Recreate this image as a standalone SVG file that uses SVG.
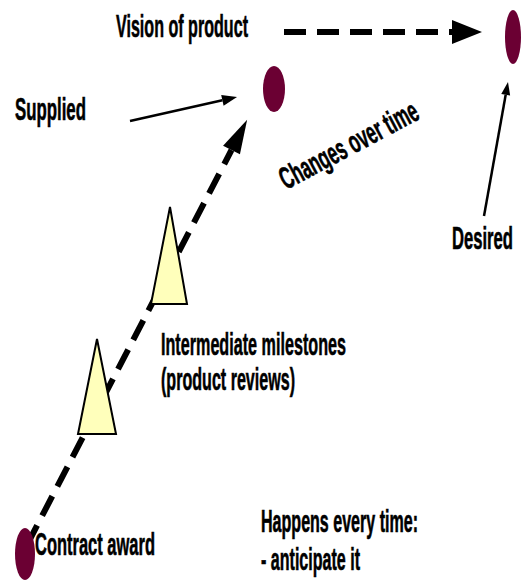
<svg xmlns="http://www.w3.org/2000/svg" width="521" height="580" viewBox="0 0 521 580">
<style>
.lbl{font-family:"Liberation Sans",Arial,sans-serif;font-size:31px;font-weight:bold;fill:#000;stroke:#000;stroke-width:0.6}
.dot{fill:#6B0033}
.tri{fill:#FFFFBB;stroke:#000;stroke-width:2}
.dash{fill:none;stroke:#000;stroke-width:6;stroke-dasharray:22 11}
.thin{fill:none;stroke:#000;stroke-width:2.5}
</style>
<defs>
<marker id="hBig" markerUnits="userSpaceOnUse" orient="auto" refX="0" refY="9.5" markerWidth="36" markerHeight="20" overflow="visible"><path d="M0,0 L34,9.5 L0,19 z" fill="#000"/></marker>
<marker id="hTop" markerUnits="userSpaceOnUse" orient="auto" refX="0" refY="12" markerWidth="32" markerHeight="25" overflow="visible"><path d="M0,0 L30,12 L0,24 z" fill="#000"/></marker>
<marker id="hSmall" markerUnits="userSpaceOnUse" orient="auto" refX="0" refY="5.5" markerWidth="16" markerHeight="12" overflow="visible"><path d="M0,0 L15,5.5 L0,11 z" fill="#000"/></marker>
<marker id="hTiny" markerUnits="userSpaceOnUse" orient="auto" refX="0" refY="4.5" markerWidth="14" markerHeight="10" overflow="visible"><path d="M0,0 L13,4.5 L0,9 z" fill="#000"/></marker>
</defs>
<rect width="521" height="580" fill="#fff"/>
<g id="connectors">
<line class="dash" x1="284" y1="32" x2="452" y2="32" marker-end="url(#hTop)"/>
<line class="dash" x1="27" y1="545" x2="231.5" y2="150" marker-end="url(#hBig)"/>
<line class="thin" x1="130" y1="121" x2="222.4" y2="100.3" marker-end="url(#hSmall)"/>
<line class="thin" x1="484" y1="216" x2="505.7" y2="94.8" stroke-width="2" marker-end="url(#hTiny)"/>
</g>
<g id="vision-top"><ellipse class="dot" cx="513" cy="37" rx="8" ry="27"/></g>
<g id="vision-supplied"><ellipse class="dot" cx="274" cy="89" rx="11" ry="23"/></g>
<g id="contract-award-node"><ellipse class="dot" cx="25" cy="554" rx="10" ry="26"/></g>
<g id="milestone-1"><polygon class="tri" points="170,207 151,304 187,304"/></g>
<g id="milestone-2"><polygon class="tri" points="97,339 78,434 116,434"/></g>
<g id="labels">
<text class="lbl" transform="translate(116,37) scale(0.5,1)" textLength="264" lengthAdjust="spacingAndGlyphs">Vision of product</text>
<text class="lbl" transform="translate(15,120) scale(0.5,1)" textLength="142" lengthAdjust="spacingAndGlyphs">Supplied</text>
<text class="lbl" transform="translate(452,249) scale(0.5,1)" textLength="122" lengthAdjust="spacingAndGlyphs">Desired</text>
<text class="lbl" transform="translate(286,190) rotate(-28) scale(0.5,1)" textLength="306" lengthAdjust="spacingAndGlyphs">Changes over time</text>
<text class="lbl" transform="translate(161,355) scale(0.5,1)" textLength="370" lengthAdjust="spacingAndGlyphs">Intermediate milestones</text>
<text class="lbl" transform="translate(161,390) scale(0.5,1)" textLength="268" lengthAdjust="spacingAndGlyphs">(product reviews)</text>
<text class="lbl" transform="translate(35,555) scale(0.5,1)" textLength="240" lengthAdjust="spacingAndGlyphs">Contract award</text>
<text class="lbl" transform="translate(261,532) scale(0.5,1)" textLength="314" lengthAdjust="spacingAndGlyphs">Happens every time:</text>
<text class="lbl" transform="translate(261,570) scale(0.5,1)" textLength="198" lengthAdjust="spacingAndGlyphs">- anticipate it</text>
</g>
</svg>
